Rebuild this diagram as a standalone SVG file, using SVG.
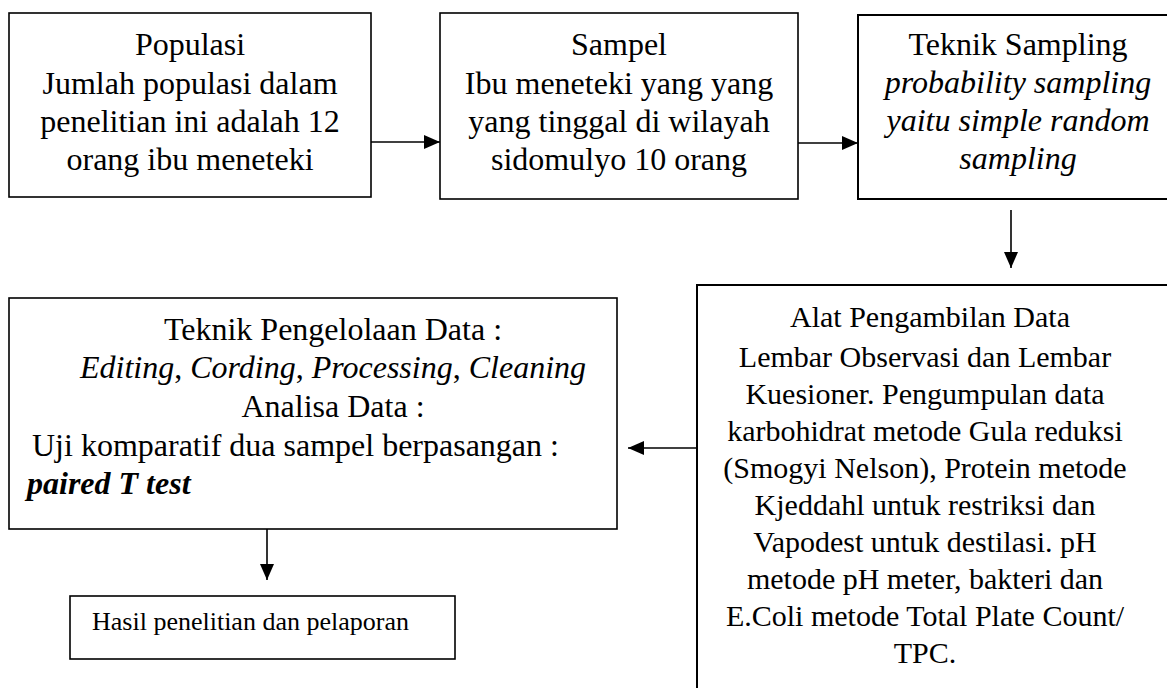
<svg xmlns="http://www.w3.org/2000/svg" width="1167" height="688" viewBox="0 0 1167 688">
<style>
.box{fill:#fff;stroke:#000;stroke-width:1.6}
.thick{stroke-width:2}
.t{font-family:"Liberation Serif","Times New Roman",serif;font-size:32px;fill:#000}
.c{text-anchor:middle}
.i{font-style:italic}
.b{font-weight:bold}
.s{font-size:30px}
.conn{stroke:#000;stroke-width:1.6;fill:none}
</style>
<defs>
<marker id="ah" markerUnits="userSpaceOnUse" markerWidth="16" markerHeight="14" refX="16" refY="7" orient="auto">
<path d="M0,0 L16,7 L0,14 Z" fill="#000"/>
</marker>
</defs>
<rect width="1167" height="688" fill="#fff"/>
<g id="connectors">
<line class="conn" x1="371" y1="142" x2="440" y2="142" marker-end="url(#ah)"/>
<line class="conn" x1="798" y1="143" x2="858" y2="143" marker-end="url(#ah)"/>
<line class="conn" x1="1011" y1="210" x2="1011" y2="268" marker-end="url(#ah)"/>
<line class="conn" x1="697" y1="448" x2="628" y2="448" marker-end="url(#ah)"/>
<line class="conn" x1="267" y1="529" x2="267" y2="580" marker-end="url(#ah)"/>
</g>
<g id="populasi">
<rect class="box" x="9" y="13" width="362" height="184"/>
<text class="t c" x="190" y="55">Populasi</text>
<text class="t c" x="190" y="94">Jumlah populasi dalam</text>
<text class="t c" x="190" y="132">penelitian ini adalah 12</text>
<text class="t c" x="190" y="170">orang ibu meneteki</text>
</g>
<g id="sampel">
<rect class="box" x="440" y="13" width="358" height="186"/>
<text class="t c" x="619" y="55">Sampel</text>
<text class="t c" x="619" y="94">Ibu meneteki yang yang</text>
<text class="t c" x="619" y="132">yang tinggal di wilayah</text>
<text class="t c" x="619" y="170">sidomulyo 10 orang</text>
</g>
<g id="teknik-sampling">
<rect class="box thick" x="858" y="15" width="320" height="184"/>
<text class="t c" x="1018" y="55">Teknik Sampling</text>
<text class="t c i" x="1018" y="93">probability sampling</text>
<text class="t c i" x="1018" y="131">yaitu simple random</text>
<text class="t c i" x="1018" y="169">sampling</text>
</g>
<g id="alat">
<rect class="box thick" x="697" y="285" width="490" height="420"/>
<text class="t s c" x="930" y="327">Alat Pengambilan Data</text>
<text class="t s c" x="925" y="367">Lembar Observasi dan Lembar</text>
<text class="t s c" x="925" y="404">Kuesioner. Pengumpulan data</text>
<text class="t s c" x="925" y="441">karbohidrat metode Gula reduksi</text>
<text class="t s c" x="925" y="478">(Smogyi Nelson), Protein metode</text>
<text class="t s c" x="925" y="515">Kjeddahl untuk restriksi dan</text>
<text class="t s c" x="925" y="552">Vapodest untuk destilasi. pH</text>
<text class="t s c" x="925" y="589">metode pH meter, bakteri dan</text>
<text class="t s c" x="925" y="626">E.Coli metode Total Plate Count/</text>
<text class="t s c" x="925" y="663">TPC.</text>
</g>
<g id="pengelolaan">
<rect class="box" x="9" y="298" width="608" height="231"/>
<text class="t c" x="333" y="340">Teknik Pengelolaan Data :</text>
<text class="t c" x="333" y="378"><tspan class="i">Editing</tspan>, <tspan class="i">Cording</tspan>, <tspan class="i">Processing</tspan>, <tspan class="i">Cleaning</tspan></text>
<text class="t c" x="333" y="417">Analisa Data :</text>
<text class="t" x="32" y="456">Uji komparatif dua sampel berpasangan :</text>
<text class="t i b" x="27" y="494">paired T test</text>
</g>
<g id="hasil">
<rect class="box" x="70" y="596" width="385" height="63"/>
<text class="t" style="font-size:26px" x="92" y="630">Hasil penelitian dan pelaporan</text>
</g>
</svg>
